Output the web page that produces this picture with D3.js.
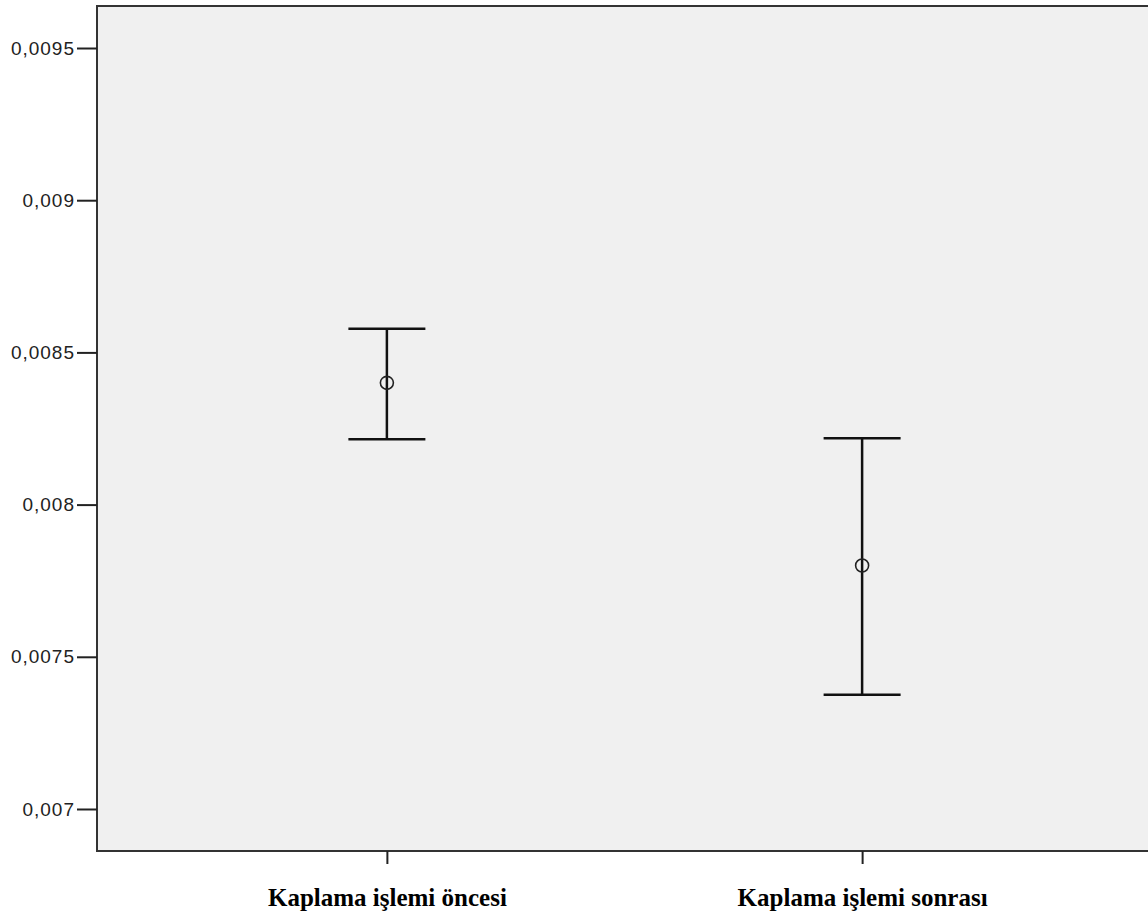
<!DOCTYPE html>
<html>
<head>
<meta charset="utf-8">
<script src="https://cdn.jsdelivr.net/npm/d3@7"></script>
<style>
  body { margin: 0; background: #fff; overflow: hidden; }
</style>
</head>
<body>
<div class="chart__container"></div>
<script>
// data
const groups = ["Kaplama işlemi öncesi", "Kaplama işlemi sonrası"];
const means = [0.0084, 0.0078];
const lower = [0.008215, 0.007375];
const upper = [0.008578, 0.008218];
const yTicks = [0.007, 0.0075, 0.008, 0.0085, 0.009, 0.0095];
const yTickLabels = ["0,007", "0,0075", "0,008", "0,0085", "0,009", "0,0095"];

const data = groups.map((g, i) => ({ group: g, mean: means[i], lo: lower[i], hi: upper[i] }));

const width = 1148, height = 920;
const plot = { left: 97, top: 6, right: 1152, bottom: 851 };

const svg = d3
  .select(".chart__container")
  .append("svg")
  .attr("width", width)
  .attr("height", height);

const xScale = d3
  .scalePoint()
  .domain(groups)
  .range([plot.left, plot.right])
  .padding(0.61);

const yScale = d3
  .scaleLinear()
  .domain([0.006862, 0.009638])
  .range([plot.bottom, plot.top]);

// plot background
svg
  .append("rect")
  .attr("x", plot.left)
  .attr("y", plot.top)
  .attr("width", plot.right - plot.left)
  .attr("height", plot.bottom - plot.top)
  .attr("fill", "#f0f0f0")
  .attr("stroke", "#333")
  .attr("stroke-width", 2);

// y axis
const yAxis = svg
  .append("g")
  .attr("transform", `translate(${plot.left},0)`)
  .call(
    d3.axisLeft(yScale)
      .tickValues(yTicks)
      .tickFormat((d, i) => yTickLabels[i])
      .tickSize(20)
      .tickPadding(2)
  );
yAxis.select(".domain").remove();
yAxis.selectAll(".tick line").attr("stroke", "#222").attr("stroke-width", 2);
yAxis
  .selectAll(".tick text")
  .attr("fill", "#222")
  .style("font-family", "'Liberation Sans', Arial, sans-serif")
  .style("font-size", "19px")
  .style("letter-spacing", "1px");

// x axis
const xAxis = svg
  .append("g")
  .attr("transform", `translate(0,${plot.bottom})`)
  .call(d3.axisBottom(xScale).tickSize(13).tickPadding(24));
xAxis.select(".domain").remove();
xAxis.selectAll(".tick line").attr("stroke", "#222").attr("stroke-width", 2);
xAxis
  .selectAll(".tick text")
  .attr("fill", "#000")
  .style("font-family", "'Liberation Serif', 'Times New Roman', serif")
  .style("font-weight", "bold")
  .style("font-size", "25px");

// error bars
const bars = svg.append("g").selectAll("g").data(data).enter().append("g");

bars
  .append("line")
  .attr("x1", (d) => xScale(d.group))
  .attr("x2", (d) => xScale(d.group))
  .attr("y1", (d) => yScale(d.hi))
  .attr("y2", (d) => yScale(d.lo))
  .attr("stroke", "#111")
  .attr("stroke-width", 2.5);

bars
  .selectAll(".cap")
  .data((d) => [d.hi, d.lo].map((v) => ({ group: d.group, v })))
  .enter()
  .append("line")
  .attr("class", "cap")
  .attr("x1", (d) => xScale(d.group) - 38.5)
  .attr("x2", (d) => xScale(d.group) + 38.5)
  .attr("y1", (d) => yScale(d.v))
  .attr("y2", (d) => yScale(d.v))
  .attr("stroke", "#111")
  .attr("stroke-width", 2.5);

bars
  .append("circle")
  .attr("cx", (d) => xScale(d.group))
  .attr("cy", (d) => yScale(d.mean))
  .attr("r", 6.5)
  .attr("fill", "none")
  .attr("stroke", "#222")
  .attr("stroke-width", 1.6);
</script>
</body>
</html>
